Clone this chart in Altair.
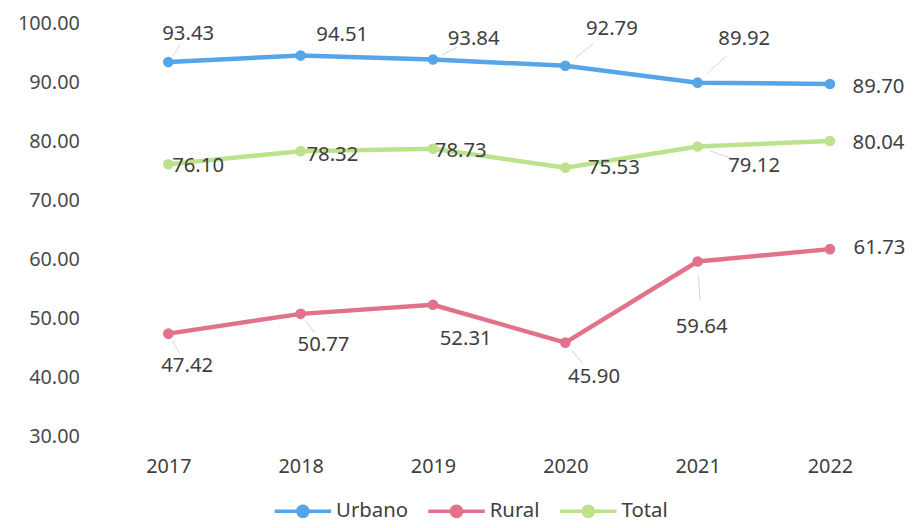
import altair as alt
import pandas as pd

years = ["2017", "2018", "2019", "2020", "2021", "2022"]
series_names = ["Urbano", "Rural", "Total"]
urbano = [93.43, 94.51, 93.84, 92.79, 89.92, 89.70]
rural = [47.42, 50.77, 52.31, 45.90, 59.64, 61.73]
total = [76.10, 78.32, 78.73, 75.53, 79.12, 80.04]
colors = ["#56a5e8", "#e2728a", "#bde28e"]

# label placement (pixel offsets from each point), per series
label_dx = {
    "Urbano": [20, 42, 41, 47, 47, 49],
    "Total": [30, 32, 28, 49, 57, 49],
    "Rural": [19, 23, 33, 29, 4, 50],
}
label_dy = {
    "Urbano": [-28, -21, -21, -37, -44, 3],
    "Total": [2, 4, 2, 0, 20, 2],
    "Rural": [33, 31, 35, 35, 66, -1],
}
leader = {
    "Urbano": [1, 0, 1, 1, 1, 0],
    "Total": [0, 0, 0, 0, 1, 0],
    "Rural": [1, 1, 0, 1, 1, 0],
}

PLOT_W, PLOT_H = 817, 417
Y_MIN, Y_MAX = 30, 100
PX_PER_UNIT = PLOT_H / (Y_MAX - Y_MIN)

rows = []
lead_rows = []
values = {"Urbano": urbano, "Rural": rural, "Total": total}
for s in series_names:
    for i, y in enumerate(years):
        v = values[s][i]
        dx, dy = label_dx[s][i], label_dy[s][i]
        rows.append({"year": y, "serie": s, "value": v, "label": f"{v:.2f}", "dx": dx, "dy": dy})
        if leader[s][i]:
            for k, f in enumerate((0.22, 0.6)):
                lead_rows.append({"year": y, "serie": s, "value": v, "id": f"{s}{y}",
                                  "k": k, "ox": dx * f, "oy": dy * f})

df = pd.DataFrame(rows)
lead = pd.DataFrame(lead_rows)

FONT = "Noto Sans"
x_enc = alt.X("year:O", scale=alt.Scale(type="point", padding=0.56),
              axis=alt.Axis(title=None, labelAngle=0, domain=False, ticks=False, grid=False,
                            labelPadding=20, labelFontSize=20, labelFont=FONT, labelColor="#404040"))
y_scale = alt.Scale(domain=[Y_MIN, Y_MAX], nice=False, zero=False)
y_axis = alt.Axis(title=None, values=[30, 40, 50, 60, 70, 80, 90, 100], format=".2f",
                  domain=False, ticks=False, grid=False, labelPadding=15,
                  labelFontSize=20, labelFont=FONT, labelColor="#4a4a4a")
y_enc = alt.Y("value:Q", scale=y_scale, axis=y_axis, title=None)
y_lab = alt.Y("ly:Q", scale=y_scale, axis=y_axis, title=None)

color_enc = alt.Color("serie:N", scale=alt.Scale(domain=series_names, range=colors),
                      legend=alt.Legend(title=None, orient="none", direction="horizontal",
                                        legendX=180, legendY=462, gridAlign="none",
                                        symbolType="M-1,0L1,0M-0.18,0A0.18,0.18,0,1,1,0.18,0A0.18,0.18,0,1,1,-0.18,0",
                                        symbolSize=3249, symbolStrokeWidth=3.5,
                                        labelFont=FONT, labelFontSize=20.5, labelColor="#404040",
                                        labelOffset=3, columnPadding=13))

base = alt.Chart(df)
lines = base.mark_line(strokeWidth=4.5).encode(x=x_enc, y=y_enc, color=color_enc,
                                              detail="serie:N")
points = base.mark_point(filled=True, size=115, opacity=1).encode(
    x=x_enc, y=y_enc,
    color=alt.Color("serie:N", scale=alt.Scale(domain=series_names, range=colors), legend=None))
leaders = alt.Chart(lead).transform_calculate(
    ly=f"datum.value - datum.oy / {PX_PER_UNIT}"
).mark_line(strokeWidth=1, color="#d6d6d6").encode(
    x=x_enc, y=y_lab, detail="id:N", order="k:Q",
    xOffset=alt.XOffset("ox:Q", scale=None))
labels = base.transform_calculate(
    ly=f"datum.value - datum.dy / {PX_PER_UNIT}"
).mark_text(font=FONT, fontSize=20.5, color="#404040", align="center", baseline="middle").encode(
    x=x_enc, y=y_lab, text="label:N",
    xOffset=alt.XOffset("dx:Q", scale=None))

chart = alt.layer(leaders, lines, points, labels).properties(
    width=PLOT_W, height=PLOT_H,
    autosize=alt.AutoSizeParams(type="none"),
    padding={"left": 87, "top": 13, "right": 6, "bottom": 90},
    background="white",
).configure_view(stroke=None)

chart.save("out.html", embed_options={"renderer": "svg", "actions": False})
